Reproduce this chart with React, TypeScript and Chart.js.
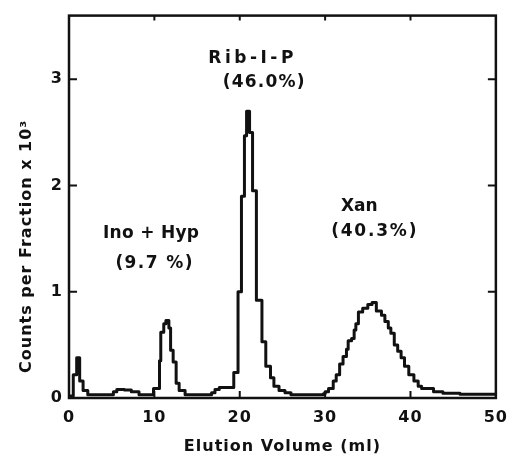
import React, { useEffect, useRef } from 'react';
import { Chart, registerables } from 'chart.js';

Chart.register(...registerables);

// ---- data ----
const elutionVolumeMl = [
  0, 0.5, 0.9, 1.25, 1.65, 2.2,
  5.2, 5.6, 6.5, 7.3, 8.2,
  9.9, 10.6, 10.75, 11.1, 11.35, 11.7, 11.9, 12.2, 12.55, 12.9, 13.6,
  16.7, 17.1, 17.6,
  19.3, 19.8, 20.2, 20.55, 20.8, 21.15, 21.5, 21.95, 22.6, 23.05, 23.6, 24.0, 24.6, 25.3, 26.0,
  29.8, 30.0, 30.4, 30.95, 31.3, 31.7, 32.1, 32.5, 32.7, 33.1,
  33.4, 33.6, 33.9, 34.4, 35.0, 35.5, 36.0, 36.6, 37.0, 37.4,
  37.7, 38.1, 38.5, 38.9, 39.3, 39.8, 40.4, 40.9, 41.3, 42.7,
  43.8, 45.8, 50.0,
];
const countsPerFractionK = [
  0.02, 0.22, 0.38, 0.16, 0.07, 0.03,
  0.06, 0.08, 0.075, 0.06, 0.03,
  0.09, 0.35, 0.62, 0.70, 0.73, 0.66, 0.45, 0.34, 0.14, 0.07, 0.03,
  0.05, 0.08, 0.10,
  0.24, 1.0, 1.9, 2.47, 2.70, 2.50, 1.95, 0.92, 0.53, 0.30, 0.19, 0.11, 0.07, 0.05, 0.03,
  0.04, 0.06, 0.09, 0.16, 0.22, 0.32, 0.39, 0.46, 0.54, 0.56,
  0.64, 0.70, 0.81, 0.845, 0.88, 0.90, 0.82, 0.78, 0.72, 0.66,
  0.61, 0.50, 0.44, 0.38, 0.30, 0.22, 0.16, 0.11, 0.09, 0.06,
  0.045, 0.035, 0.035,
];
const xTickValues = [0, 10, 20, 30, 40, 50];
const yTickValues = [0, 1, 2, 3];
const xAxisTitle = 'Elution Volume (ml)';
const yAxisTitle = 'Counts per Fraction x 10³';
const peakLabelTexts = ['Rib-I-P', '(46.0%)', 'Ino + Hyp', '(9.7 %)', 'Xan', '(40.3%)'];

// ---- layout / style (kept apart from the data) ----
const peakLabelAnchors = [
  { volume: 21.3, counts: 3.2, spacing: 3.5 },
  { volume: 22.8, counts: 2.97, spacing: 1.2 },
  { volume: 9.6, counts: 1.55, spacing: 0.3 },
  { volume: 9.95, counts: 1.27, spacing: 1.4 },
  { volume: 34.0, counts: 1.8, spacing: 0 },
  { volume: 35.7, counts: 1.57, spacing: 1.8 },
];
const INK = '#111111';
const FONT = '"DejaVu Sans", Verdana, sans-serif';

const framePlugin = {
  id: 'frameAndLabels',
  beforeDraw(chart: any) {
    chart.ctx.letterSpacing = '1px';
  },
  afterDatasetsDraw(chart: any) {
    const { ctx, chartArea, scales } = chart;
    const { left, right, top, bottom } = chartArea;
    const x = scales.x;
    const y = scales.y;
    ctx.save();
    ctx.strokeStyle = INK;
    ctx.lineWidth = 2.5;
    ctx.strokeRect(left, top, right - left, bottom - top);
    ctx.lineWidth = 2;
    ctx.beginPath();
    xTickValues.forEach((v) => {
      if (v <= 0 || v >= 50) return;
      const px = x.getPixelForValue(v);
      ctx.moveTo(px, bottom);
      ctx.lineTo(px, bottom - 7);
      ctx.moveTo(px, top);
      ctx.lineTo(px, top + 5);
    });
    yTickValues.forEach((v) => {
      if (v <= 0) return;
      const py = y.getPixelForValue(v);
      ctx.moveTo(left, py);
      ctx.lineTo(left + 8, py);
      ctx.moveTo(right, py);
      ctx.lineTo(right - 8, py);
    });
    ctx.stroke();

    ctx.fillStyle = INK;
    ctx.font = `bold 17px ${FONT}`;
    ctx.textAlign = 'center';
    ctx.textBaseline = 'middle';
    peakLabelTexts.forEach((t, i) => {
      const a = peakLabelAnchors[i];
      ctx.letterSpacing = `${a.spacing}px`;
      ctx.fillText(t, x.getPixelForValue(a.volume) + a.spacing / 2, y.getPixelForValue(a.counts));
    });

    // y-axis title, set lower than the axis centre as in the original
    ctx.font = `bold 16px ${FONT}`;
    ctx.letterSpacing = '1px';
    ctx.translate(27, (top + bottom) / 2 + 40);
    ctx.rotate(-Math.PI / 2);
    ctx.fillText(yAxisTitle, 0.5, 0);
    ctx.restore();
  },
};

export default function App() {
  const canvasRef = useRef<HTMLCanvasElement | null>(null);

  useEffect(() => {
    document.body.style.margin = '0';
    const canvas = canvasRef.current;
    if (!canvas) return;
    const points = elutionVolumeMl.map((v, i) => ({ x: v, y: countsPerFractionK[i] }));
    const chart = new Chart(canvas, {
      type: 'line',
      data: {
        datasets: [
          {
            data: points,
            borderColor: INK,
            borderWidth: 3,
            pointRadius: 0,
            stepped: true,
            fill: false,
            borderJoinStyle: 'round',
            borderCapStyle: 'round',
          },
        ],
      },
      options: {
        animation: false,
        responsive: false,
        devicePixelRatio: 1,
        layout: { padding: { top: 12, right: 14, left: 0, bottom: 0 } },
        plugins: { legend: { display: false }, tooltip: { enabled: false } },
        scales: {
          x: {
            type: 'linear',
            min: 0,
            max: 50,
            grid: { display: false, drawTicks: false },
            border: { display: false },
            afterBuildTicks: (s: any) => {
              s.ticks = xTickValues.map((v) => ({ value: v }));
            },
            afterFit: (s: any) => {
              s.height = 60;
            },
            ticks: {
              color: INK,
              padding: 10,
              maxRotation: 0,
              font: { family: FONT, size: 16, weight: 'bold' },
            },
            title: {
              display: true,
              text: xAxisTitle,
              color: INK,
              padding: { top: 0, bottom: 2 },
              font: { family: FONT, size: 16, weight: 'bold' },
            },
          },
          y: {
            type: 'linear',
            min: 0,
            max: 3.6,
            grid: { display: false, drawTicks: false },
            border: { display: false },
            afterBuildTicks: (s: any) => {
              s.ticks = yTickValues.map((v) => ({ value: v }));
            },
            afterFit: (s: any) => {
              s.width = 69;
            },
            ticks: {
              color: INK,
              padding: 6,
              font: { family: FONT, size: 16, weight: 'bold' },
            },
            title: { display: false, text: yAxisTitle },
          },
        },
      },
      plugins: [framePlugin],
    });
    return () => chart.destroy();
  }, []);

  return (
    <div style={{ width: 517, height: 458, background: '#fff' }}>
      <canvas ref={canvasRef} width={517} height={458} style={{ display: 'block' }} />
    </div>
  );
}
